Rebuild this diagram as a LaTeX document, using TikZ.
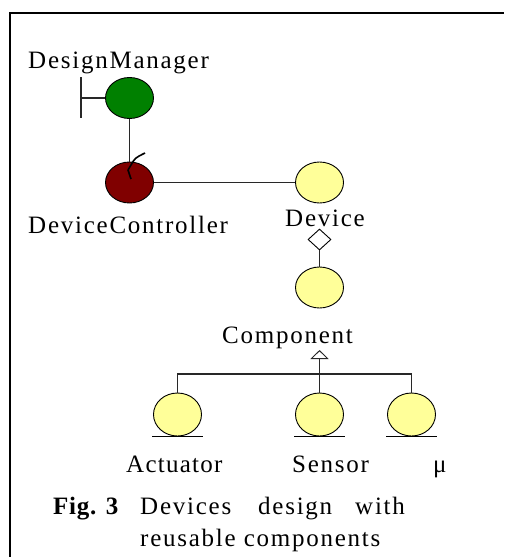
\documentclass[tikz,border=0pt]{standalone}
\usepackage{fontspec}
\setmainfont{Liberation Serif}[LetterSpace=7]
\usetikzlibrary{shapes.geometric,arrows.meta}
\definecolor{dmgreen}{RGB}{0,128,0}
\definecolor{dcred}{RGB}{128,0,0}
\definecolor{pale}{RGB}{255,255,153}
\definecolor{edge}{RGB}{40,40,40}
\tikzset{
  obj/.style={ellipse, draw=black, line width=0.9pt, minimum width=48pt, minimum height=41pt, inner sep=0pt},
  lbl/.style={font=\fontsize{25}{29}\selectfont, inner sep=0pt, anchor=base west},
  conn/.style={draw=edge, line width=1.5pt},
  frame/.style={draw=black, line width=2pt},
}
\begin{document}
\begin{tikzpicture}[x=1pt,y=-1pt]
\useasboundingbox (0,0) rectangle (504,557);
\fill[white] (0,0) rectangle (504,557);
% frame
\coordinate (ftl) at (10,13);
\coordinate (ftr) at (504,13);
\coordinate (fbl) at (10,557);
\draw[frame] (fbl) -- (ftl) -- (ftr);

% objects
\node[obj, fill=dmgreen] (dm) at (129.5,98) {};
\node[obj, fill=dcred] (dc) at (129.5,182.5) {};
\node[obj, fill=pale] (dev) at (319.5,182.5) {};
\node[obj, fill=pale] (comp) at (319.5,287.5) {};
\node[obj, fill=pale, minimum height=43pt] (act) at (177.5,414.5) {};
\node[obj, fill=pale, minimum height=43pt] (sen) at (319.5,414.5) {};
\node[obj, fill=pale, minimum height=43pt] (mu) at (411.5,414.5) {};

% labels
\node[lbl] (ldm) at (28,68) {DesignManager};
\node[lbl] (ldc) at (28,233) {DeviceController};
\node[lbl] (ldev) at (285,226) {Device};
\node[lbl] (lcomp) at (222,343) {Component};
\node[lbl] (lact) at (126,472) {\addfontfeature{LetterSpace=5}Actuator};
\node[lbl] (lsen) at (292,472) {Sensor};
\node[lbl] (lmu) at (433,472) {μ};

% caption
\node[lbl] (fig) at (53,514) {\addfontfeature{LetterSpace=3}\textbf{Fig. 3}};
\node[lbl] (w1) at (140,514) {Devices};
\node[lbl] (w2) at (258,514) {design};
\node[lbl] (w3) at (355,514) {with};
\node[lbl] (w4) at (140,546) {reusable components};

% boundary T-bar of DesignManager
\coordinate (tb) at (81,98);
\coordinate (tbt) at (81,77);
\coordinate (tbb) at (81,118);
\draw[conn] (dm.west) -- (tb);
\draw[conn] (tbt) -- (tbb);

% DesignManager -- DeviceController
\draw[conn] (dm.south) -- (dc.north);
% control mark on DeviceController
\coordinate (k1) at (131,179);
\coordinate (k2) at (128,170);
\coordinate (k3) at (131,165);
\coordinate (k4) at (145,153);
\draw[black, line width=1.6pt, line join=round] (k1) -- (k2) -- (k3) .. controls (135,158) .. (k4);

% DeviceController -- Device
\draw[conn] (dc.east) -- (dev.west);

% aggregation
\node[diamond, draw=black, line width=0.9pt, fill=white, minimum width=23pt, minimum height=21pt, inner sep=0pt] (dia) at (319.5,239.5) {};
\draw[conn] (dia.south) -- (comp.north);

% generalisation
\coordinate (tip) at (319.5,350);
\coordinate (j) at (319.5,374);
\draw[conn, -{Triangle[open, width=18pt, length=9pt, line width=0.9pt]}] (sen.north) -- (tip);
\draw[conn] (act.north) |- (j) -| (mu.north);

% ground lines under entities
\foreach \n in {act,sen,mu}{
  \draw[black, line width=1.2pt] ([xshift=-1pt]\n.south -| \n.west) -- ([xshift=1pt]\n.south -| \n.east);
}
\end{tikzpicture}
\end{document}
